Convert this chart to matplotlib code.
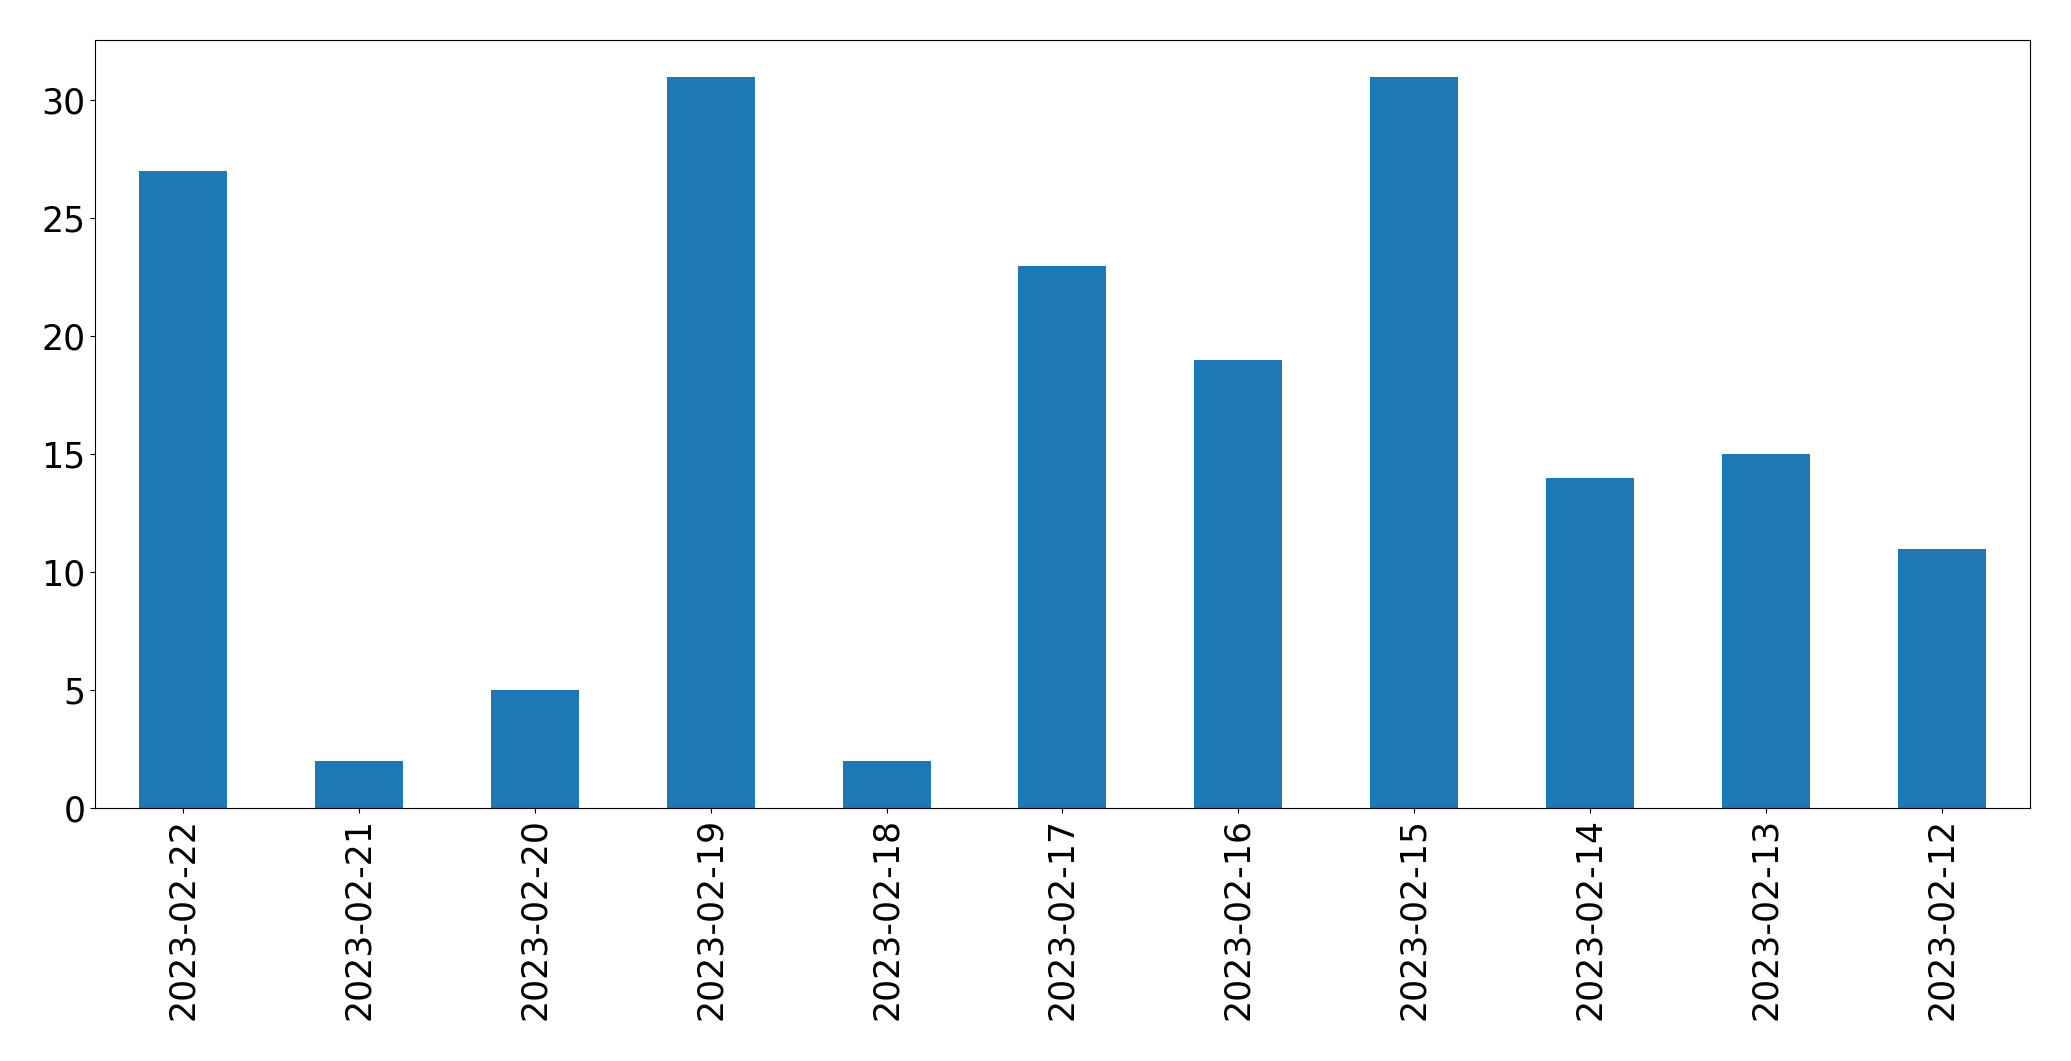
import matplotlib
matplotlib.use("Agg")
import matplotlib.pyplot as plt
import pandas as pd

dates = ["2023-02-22", "2023-02-21", "2023-02-20", "2023-02-19", "2023-02-18", "2023-02-17",
         "2023-02-16", "2023-02-15", "2023-02-14", "2023-02-13", "2023-02-12"]
counts = [27, 2, 5, 31, 2, 23, 19, 31, 14, 15, 11]

s = pd.Series(counts, index=dates)
fig, ax = plt.subplots(figsize=(20.71, 10.61), dpi=100)
s.plot.bar(ax=ax, color="#1f77b4", fontsize=25)
ax.tick_params(axis="both", labelsize=25)
fig.subplots_adjust(left=0.046, right=0.980, top=0.962, bottom=0.2385)
fig.savefig("out.png", dpi=100)
